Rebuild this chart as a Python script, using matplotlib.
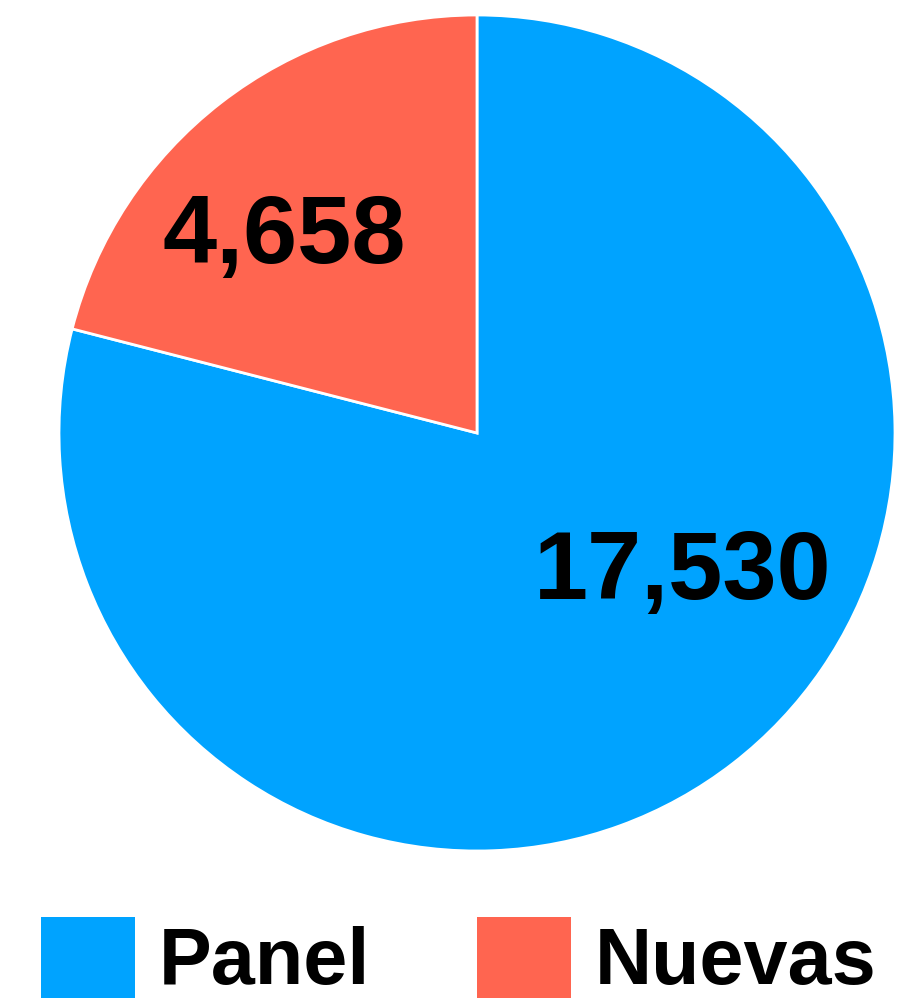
import matplotlib
matplotlib.use("Agg")
import matplotlib.pyplot as plt
from matplotlib.patches import Patch
import numpy as np

labels = ["Panel", "Nuevas"]
values = [17530, 4658]
colors = ["#00A3FF", "#FF6550"]
value_text = ["17,530", "4,658"]

plt.rcParams["font.family"] = ["Liberation Sans", "DejaVu Sans"]

fig = plt.figure(figsize=(9.08, 10), dpi=100)
ax = fig.add_axes([59 / 908, 149 / 1000, 836 / 908, 836 / 1000])

wedges, _ = ax.pie(values, colors=colors, startangle=90, counterclock=False,
                   radius=1, wedgeprops=dict(edgecolor="white", linewidth=2))
ax.set_xlim(-1, 1)
ax.set_ylim(-1, 1)
ax.set_aspect("equal")

# label positions (fraction of radius, angle in degrees)
label_pos = [(0.596, -34.5), (0.656, 134.8)]
for txt, (r, ang) in zip(value_text, label_pos):
    a = np.deg2rad(ang)
    ax.text(r * np.cos(a), r * np.sin(a), txt, ha="center", va="center",
            fontsize=70, fontweight="bold", color="black")

handles = [Patch(facecolor=c, edgecolor="none") for c in colors]
fig.legend(handles, labels, loc="upper left", bbox_to_anchor=(41 / 908, 1 - 917 / 1000),
           ncol=2, frameon=False, prop=dict(weight="bold", size=57),
           handlelength=1.19, handleheight=1.19, handletextpad=0.3,
           columnspacing=1.35, borderpad=0, borderaxespad=0)

fig.savefig("out.png", dpi=100)
